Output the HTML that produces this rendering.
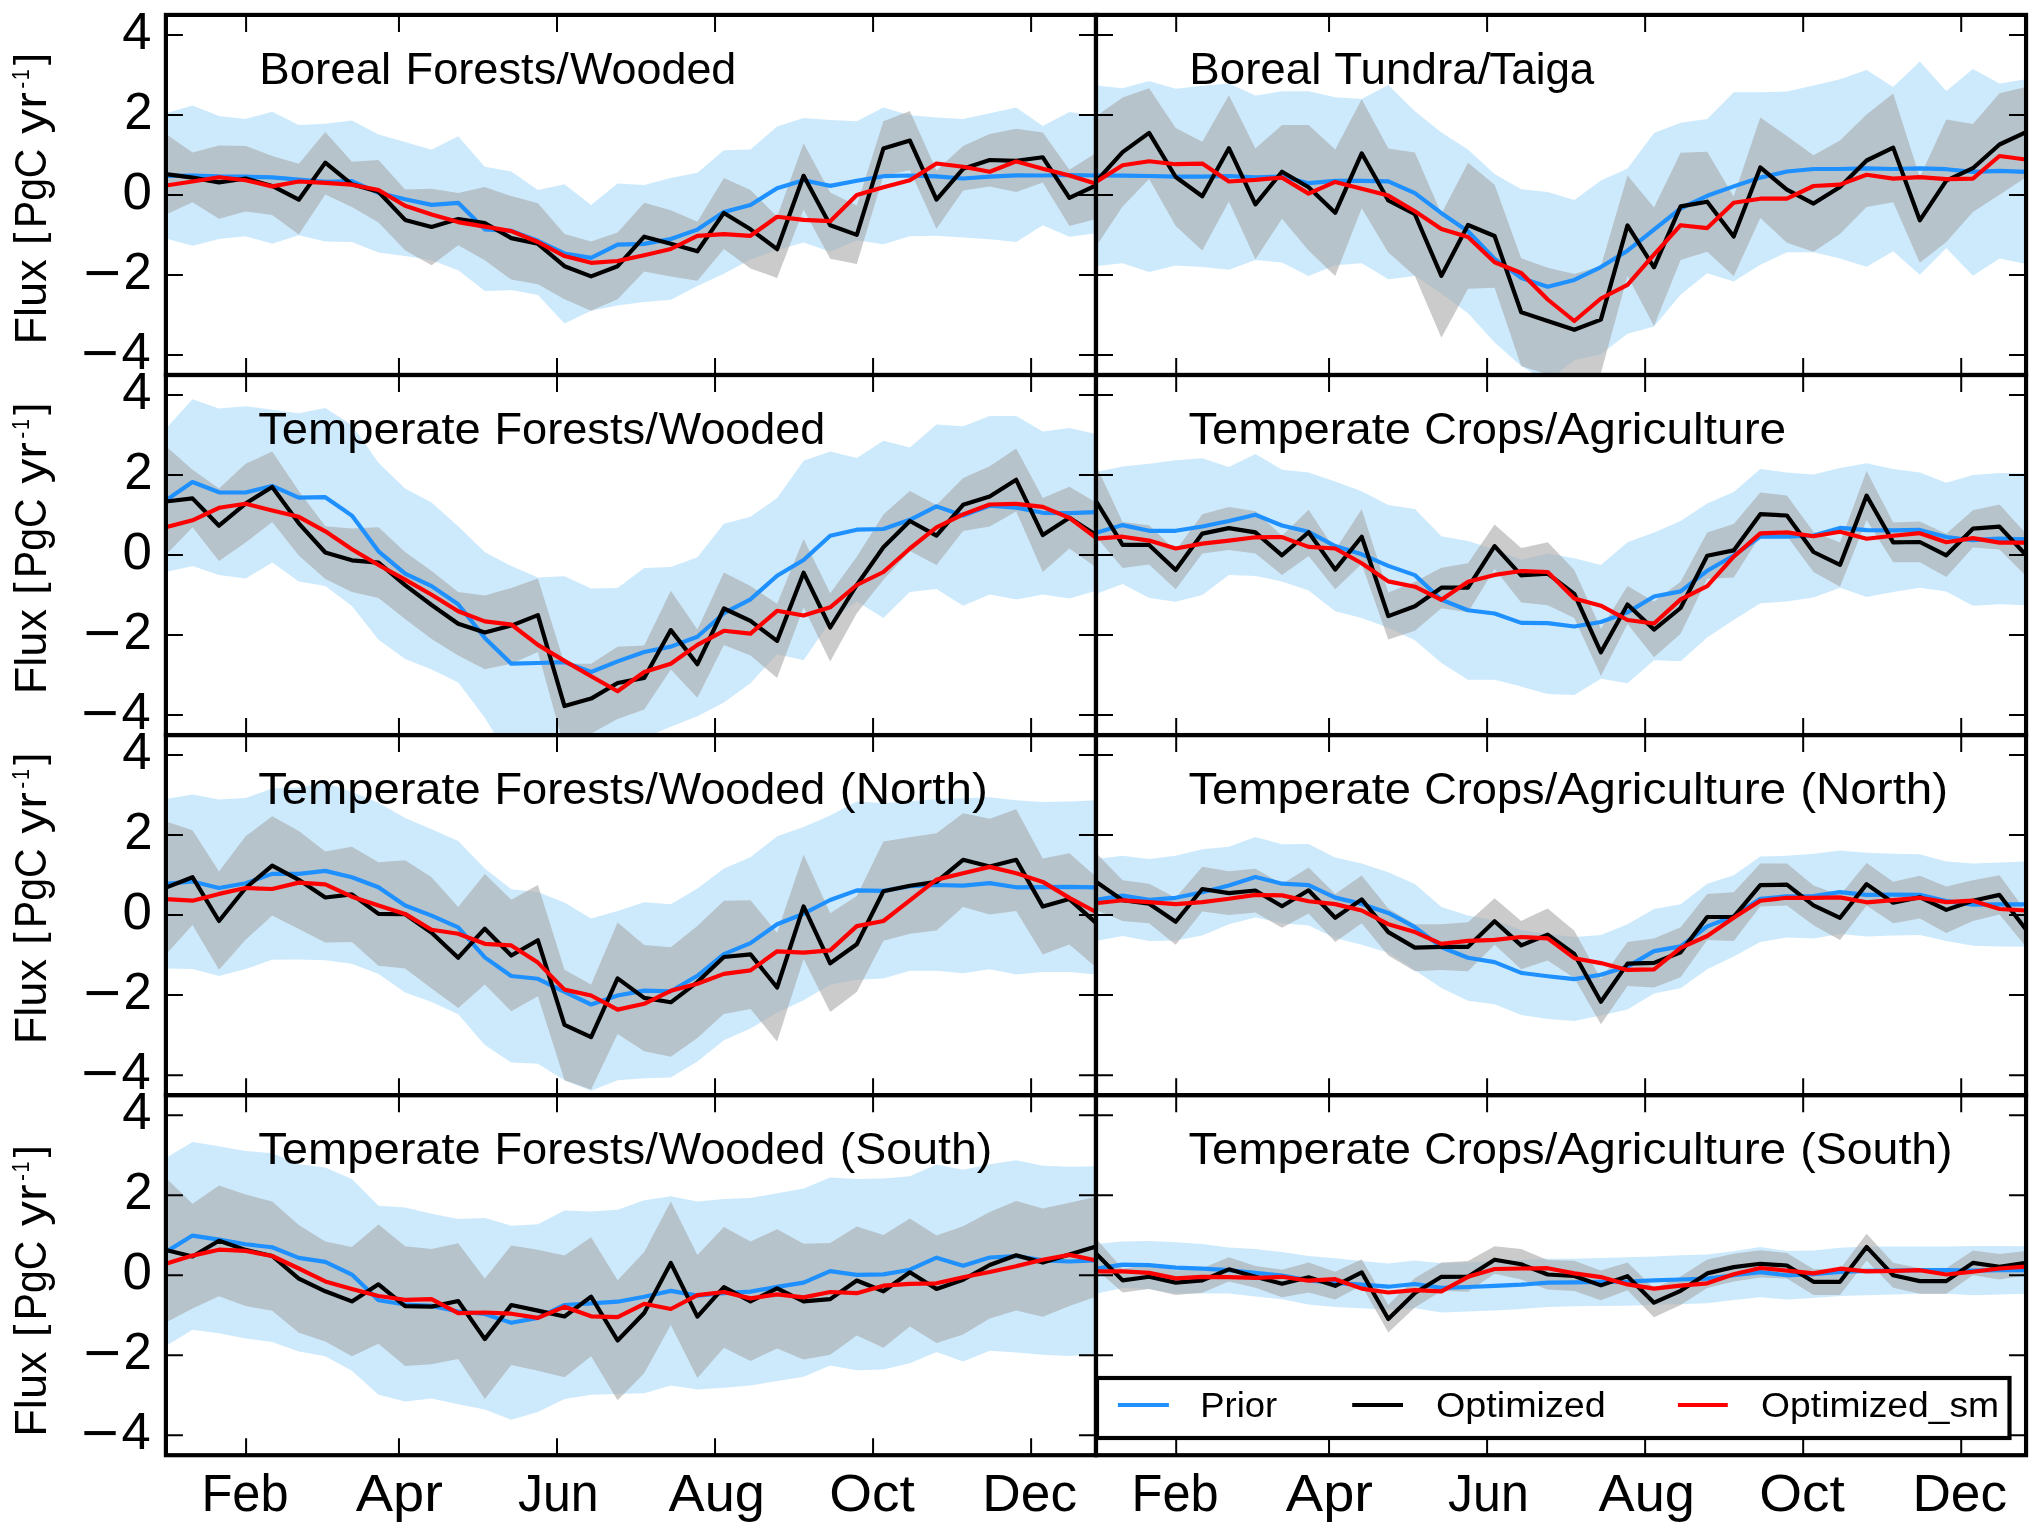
<!DOCTYPE html>
<html lang="en"><head><meta charset="utf-8"><title>Flux seasonal cycles</title>
<style>html,body{margin:0;padding:0;background:#fff}body{width:2041px;height:1532px;overflow:hidden}svg{display:block}text{font-family:"Liberation Sans",sans-serif;fill:#000}</style>
</head><body>
<svg width="2041" height="1532" viewBox="0 0 2041 1532">
<rect x="0" y="0" width="2041" height="1532" fill="#ffffff"/>
<defs>
<clipPath id="c00"><rect x="165.90" y="14.92" width="930.05" height="360.07"/></clipPath>
<clipPath id="c01"><rect x="1096.00" y="14.92" width="930.05" height="360.07"/></clipPath>
<clipPath id="c10"><rect x="165.90" y="374.99" width="930.05" height="360.07"/></clipPath>
<clipPath id="c11"><rect x="1096.00" y="374.99" width="930.05" height="360.07"/></clipPath>
<clipPath id="c20"><rect x="165.90" y="735.06" width="930.05" height="360.07"/></clipPath>
<clipPath id="c21"><rect x="1096.00" y="735.06" width="930.05" height="360.07"/></clipPath>
<clipPath id="c30"><rect x="165.90" y="1095.13" width="930.05" height="360.07"/></clipPath>
<clipPath id="c31"><rect x="1096.00" y="1095.13" width="930.05" height="360.07"/></clipPath>
<filter id="gs" x="0" y="0" width="100%" height="100%" filterUnits="userSpaceOnUse" color-interpolation-filters="sRGB"><feColorMatrix type="saturate" values="0"/></filter>
</defs>
<g clip-path="url(#c00)">
<polygon points="165.9,113.2 192.5,105.6 219.0,115.9 245.6,118.9 272.2,111.8 298.8,124.9 325.3,123.8 351.9,120.6 378.5,134.4 405.1,142.0 431.6,149.7 458.2,136.3 484.8,166.7 511.3,171.4 537.9,190.0 564.5,184.3 591.1,204.9 617.6,183.4 644.2,185.0 670.8,178.0 697.4,172.7 723.9,150.3 750.5,149.4 777.1,126.4 803.6,118.0 830.2,119.9 856.8,121.2 883.4,107.4 909.9,115.3 936.5,117.6 963.1,118.9 989.7,113.2 1016.2,107.6 1042.8,126.1 1069.4,112.0 1096.0,116.2 1096.0,233.2 1069.4,236.7 1042.8,225.2 1016.2,242.0 989.7,239.3 963.1,237.6 936.5,235.8 909.9,236.2 883.4,244.3 856.8,240.2 830.2,251.7 803.6,242.5 777.1,249.9 750.5,259.6 723.9,273.7 697.4,286.1 670.8,299.7 644.2,302.0 617.6,305.5 591.1,310.8 564.5,323.5 537.9,294.9 511.3,290.1 484.8,291.0 458.2,270.2 431.6,260.2 405.1,256.1 378.5,252.6 351.9,242.0 325.3,241.5 298.8,235.3 272.2,243.8 245.6,236.2 219.0,239.0 192.5,245.7 165.9,238.5" fill="#87cefa" fill-opacity="0.42"/>
<polygon points="165.9,133.9 192.5,152.4 219.0,145.5 245.6,145.9 272.2,155.9 298.8,163.8 325.3,132.1 351.9,161.7 378.5,160.1 405.1,189.4 431.6,188.7 458.2,192.9 484.8,187.0 511.3,196.1 537.9,203.2 564.5,234.1 591.1,241.6 617.6,232.6 644.2,202.8 670.8,210.2 697.4,221.7 723.9,178.0 750.5,190.0 777.1,216.8 803.6,143.2 830.2,192.6 856.8,205.5 883.4,121.2 909.9,110.9 936.5,170.5 963.1,145.9 989.7,133.9 1016.2,128.7 1042.8,132.6 1069.4,169.7 1096.0,152.9 1096.0,219.1 1069.4,226.1 1042.8,182.5 1016.2,192.1 989.7,186.4 963.1,190.5 936.5,228.8 909.9,170.2 883.4,175.8 856.8,264.0 830.2,258.7 803.6,209.4 777.1,278.1 750.5,268.4 723.9,249.0 697.4,280.8 670.8,276.4 644.2,271.6 617.6,299.3 591.1,310.8 564.5,299.3 537.9,284.3 511.3,279.6 484.8,260.2 458.2,245.2 431.6,265.3 405.1,250.3 378.5,222.6 351.9,207.1 325.3,194.5 298.8,234.6 272.2,215.0 245.6,211.5 219.0,218.7 192.5,202.3 165.9,214.6" fill="#a9a9a9" fill-opacity="0.6"/>
<polyline points="165.9,175.8 192.5,175.5 219.0,176.4 245.6,176.7 272.2,177.4 298.8,179.7 325.3,181.8 351.9,181.1 378.5,192.9 405.1,199.3 431.6,204.9 458.2,202.8 484.8,229.3 511.3,230.9 537.9,240.8 564.5,253.5 591.1,257.9 617.6,244.6 644.2,243.9 670.8,239.0 697.4,229.6 723.9,212.0 750.5,204.9 777.1,188.2 803.6,180.2 830.2,185.9 856.8,180.8 883.4,176.2 909.9,175.5 936.5,176.4 963.1,178.5 989.7,176.7 1016.2,175.3 1042.8,175.5 1069.4,175.0 1096.0,175.5" fill="none" stroke="#1e90ff" stroke-width="4.17" stroke-linejoin="round" stroke-linecap="butt"/>
<polyline points="165.9,174.1 192.5,177.6 219.0,182.4 245.6,178.5 272.2,185.9 298.8,199.7 325.3,162.6 351.9,184.3 378.5,191.7 405.1,219.9 431.6,227.0 458.2,219.1 484.8,223.1 511.3,238.1 537.9,243.8 564.5,266.2 591.1,276.4 617.6,266.2 644.2,236.7 670.8,243.8 697.4,251.3 723.9,212.9 750.5,229.3 777.1,249.2 803.6,175.8 830.2,225.2 856.8,234.9 883.4,148.5 909.9,140.6 936.5,199.7 963.1,168.8 989.7,160.0 1016.2,160.8 1042.8,157.3 1069.4,197.9 1096.0,185.5" fill="none" stroke="#000000" stroke-width="4.17" stroke-linejoin="round" stroke-linecap="butt"/>
<polyline points="165.9,185.5 192.5,181.5 219.0,177.2 245.6,180.2 272.2,186.4 298.8,181.5 325.3,182.9 351.9,184.7 378.5,190.0 405.1,205.8 431.6,214.6 458.2,222.1 484.8,226.6 511.3,231.1 537.9,242.0 564.5,256.1 591.1,262.8 617.6,261.0 644.2,255.2 670.8,249.0 697.4,235.8 723.9,234.1 750.5,235.8 777.1,216.8 803.6,219.9 830.2,221.2 856.8,194.9 883.4,187.3 909.9,180.2 936.5,163.5 963.1,166.7 989.7,171.8 1016.2,161.4 1042.8,168.8 1069.4,175.5 1096.0,183.8" fill="none" stroke="#ff0000" stroke-width="4.17" stroke-linejoin="round" stroke-linecap="butt"/>
</g>
<g clip-path="url(#c01)">
<polygon points="1096.0,85.4 1122.6,88.2 1149.1,80.9 1175.7,88.8 1202.3,85.8 1228.9,83.5 1255.4,95.6 1282.0,91.3 1308.6,91.3 1335.2,97.2 1361.7,99.0 1388.3,84.9 1414.9,111.3 1441.4,132.5 1468.0,149.5 1494.6,174.0 1521.2,189.3 1547.7,192.1 1574.3,199.9 1600.9,180.5 1627.5,168.5 1654.0,133.1 1680.6,122.7 1707.2,119.0 1733.7,92.3 1760.3,92.3 1786.9,91.5 1813.5,85.5 1840.0,79.2 1866.6,70.0 1893.2,87.0 1919.8,61.6 1946.3,91.0 1972.9,69.0 1999.5,83.5 2026.0,79.2 2026.0,264.0 1999.5,258.5 1972.9,275.8 1946.3,248.1 1919.8,274.8 1893.2,251.3 1866.6,266.8 1840.0,258.5 1813.5,252.2 1786.9,252.2 1760.3,264.8 1733.7,281.5 1707.2,273.2 1680.6,294.8 1654.0,326.5 1627.5,333.8 1600.9,354.3 1574.3,360.2 1547.7,381.4 1521.2,366.1 1494.6,342.6 1468.0,313.2 1441.4,293.6 1414.9,275.9 1388.3,279.3 1361.7,263.2 1335.2,265.2 1308.6,275.9 1282.0,262.6 1255.4,259.9 1228.9,269.7 1202.3,267.1 1175.7,265.6 1149.1,272.0 1122.6,263.2 1096.0,266.1" fill="#87cefa" fill-opacity="0.42"/>
<polygon points="1096.0,116.2 1122.6,97.6 1149.1,88.2 1175.7,128.0 1202.3,141.7 1228.9,95.2 1255.4,148.6 1282.0,125.0 1308.6,125.0 1335.2,149.5 1361.7,99.2 1388.3,148.6 1414.9,152.5 1441.4,213.8 1468.0,162.7 1494.6,184.8 1521.2,258.3 1547.7,267.7 1574.3,274.0 1600.9,266.1 1627.5,175.4 1654.0,207.6 1680.6,152.7 1707.2,151.7 1733.7,196.4 1760.3,117.4 1786.9,136.0 1813.5,155.2 1840.0,140.5 1866.6,114.5 1893.2,93.5 1919.8,177.2 1946.3,119.4 1972.9,123.9 1999.5,93.3 2026.0,87.0 2026.0,177.2 1999.5,194.8 1972.9,212.1 1946.3,241.9 1919.8,262.8 1893.2,202.3 1866.6,207.0 1840.0,234.0 1813.5,251.7 1786.9,242.8 1760.3,218.0 1733.7,276.2 1707.2,251.7 1680.6,259.9 1654.0,326.1 1627.5,275.9 1600.9,373.0 1574.3,385.7 1547.7,374.3 1521.2,366.1 1494.6,287.7 1468.0,288.7 1441.4,337.7 1414.9,275.9 1388.3,252.4 1361.7,208.3 1335.2,275.9 1308.6,250.5 1282.0,218.7 1255.4,259.3 1228.9,201.5 1202.3,250.5 1175.7,226.0 1149.1,178.9 1122.6,206.4 1096.0,246.5" fill="#a9a9a9" fill-opacity="0.6"/>
<polyline points="1096.0,175.4 1122.6,175.6 1149.1,176.0 1175.7,176.6 1202.3,176.6 1228.9,176.0 1255.4,177.4 1282.0,176.6 1308.6,183.2 1335.2,180.9 1361.7,180.9 1388.3,181.3 1414.9,193.2 1441.4,213.2 1468.0,231.3 1494.6,258.9 1521.2,277.9 1547.7,286.7 1574.3,279.9 1600.9,267.1 1627.5,250.7 1654.0,229.7 1680.6,208.5 1707.2,195.8 1733.7,186.4 1760.3,177.6 1786.9,171.5 1813.5,169.0 1840.0,169.0 1866.6,168.4 1893.2,169.0 1919.8,168.4 1946.3,169.2 1972.9,171.9 1999.5,170.9 2026.0,171.9" fill="none" stroke="#1e90ff" stroke-width="4.17" stroke-linejoin="round" stroke-linecap="butt"/>
<polyline points="1096.0,181.5 1122.6,152.1 1149.1,132.9 1175.7,177.0 1202.3,196.2 1228.9,148.2 1255.4,204.4 1282.0,171.7 1308.6,187.2 1335.2,212.8 1361.7,153.3 1388.3,200.5 1414.9,214.2 1441.4,275.9 1468.0,225.0 1494.6,236.0 1521.2,312.2 1547.7,321.0 1574.3,329.8 1600.9,319.6 1627.5,225.4 1654.0,267.3 1680.6,206.4 1707.2,201.7 1733.7,236.6 1760.3,167.4 1786.9,189.7 1813.5,203.6 1840.0,187.0 1866.6,160.5 1893.2,147.6 1919.8,220.3 1946.3,180.7 1972.9,168.2 1999.5,144.5 2026.0,132.1" fill="none" stroke="#000000" stroke-width="4.17" stroke-linejoin="round" stroke-linecap="butt"/>
<polyline points="1096.0,181.9 1122.6,165.2 1149.1,161.3 1175.7,164.2 1202.3,163.6 1228.9,181.5 1255.4,179.9 1282.0,177.6 1308.6,193.6 1335.2,181.9 1361.7,188.7 1388.3,195.6 1414.9,211.3 1441.4,228.9 1468.0,237.1 1494.6,262.2 1521.2,273.0 1547.7,299.5 1574.3,321.0 1600.9,298.5 1627.5,284.8 1654.0,254.6 1680.6,225.2 1707.2,228.1 1733.7,202.7 1760.3,198.7 1786.9,198.7 1813.5,186.0 1840.0,184.6 1866.6,174.8 1893.2,178.6 1919.8,177.2 1946.3,179.1 1972.9,178.6 1999.5,156.0 2026.0,159.5" fill="none" stroke="#ff0000" stroke-width="4.17" stroke-linejoin="round" stroke-linecap="butt"/>
</g>
<g clip-path="url(#c10)">
<polygon points="165.9,428.6 192.5,399.2 219.0,408.6 245.6,406.2 272.2,409.7 298.8,413.3 325.3,408.1 351.9,425.0 378.5,462.7 405.1,488.5 431.6,502.6 458.2,526.2 484.8,552.0 511.3,566.1 537.9,577.4 564.5,576.3 591.1,588.5 617.6,588.0 644.2,568.0 670.8,566.9 697.4,557.2 723.9,523.8 750.5,516.8 777.1,497.9 803.6,460.8 830.2,451.4 856.8,458.0 883.4,440.8 909.9,447.4 936.5,424.6 963.1,426.2 989.7,416.1 1016.2,416.1 1042.8,431.6 1069.4,428.1 1096.0,434.0 1096.0,590.8 1069.4,598.6 1042.8,594.4 1016.2,599.5 989.7,594.4 963.1,605.7 936.5,589.0 909.9,592.0 883.4,617.9 856.8,601.4 830.2,621.4 803.6,660.2 777.1,654.3 750.5,683.3 723.9,702.6 697.4,716.2 670.8,726.8 644.2,737.8 617.6,734.8 591.1,755.5 564.5,747.9 537.9,748.6 511.3,761.3 484.8,717.8 458.2,682.6 431.6,669.6 405.1,659.0 378.5,639.8 351.9,606.1 325.3,586.1 298.8,581.4 272.2,562.6 245.6,578.4 219.0,575.1 192.5,566.1 165.9,572.0" fill="#87cefa" fill-opacity="0.42"/>
<polygon points="165.9,446.2 192.5,469.7 219.0,488.5 245.6,463.8 272.2,451.4 298.8,490.9 325.3,526.2 351.9,528.5 378.5,527.3 405.1,552.0 431.6,570.9 458.2,592.0 484.8,595.5 511.3,588.0 537.9,578.6 564.5,663.7 591.1,663.7 617.6,646.8 644.2,645.6 670.8,590.8 697.4,629.6 723.9,572.5 750.5,586.1 777.1,603.8 803.6,539.1 830.2,593.2 856.8,556.7 883.4,514.4 909.9,490.9 936.5,505.0 963.1,478.0 989.7,466.2 1016.2,448.6 1042.8,497.9 1069.4,486.7 1096.0,502.6 1096.0,567.3 1069.4,548.5 1042.8,572.0 1016.2,511.6 989.7,526.6 963.1,530.9 936.5,565.0 909.9,550.9 883.4,579.8 856.8,613.2 830.2,661.4 803.6,607.3 777.1,677.9 750.5,655.5 723.9,644.9 697.4,697.8 670.8,669.6 644.2,709.6 617.6,719.0 591.1,733.4 564.5,748.4 537.9,652.0 511.3,663.7 484.8,669.2 458.2,655.5 431.6,639.1 405.1,619.1 378.5,597.9 351.9,592.0 325.3,579.1 298.8,555.6 272.2,521.9 245.6,542.6 219.0,561.0 192.5,527.3 165.9,554.9" fill="#a9a9a9" fill-opacity="0.6"/>
<polyline points="165.9,500.3 192.5,482.0 219.0,492.3 245.6,492.5 272.2,485.9 298.8,497.7 325.3,497.2 351.9,515.6 378.5,551.3 405.1,573.7 431.6,586.1 458.2,604.2 484.8,637.9 511.3,663.7 537.9,663.0 564.5,662.1 591.1,672.0 617.6,661.4 644.2,652.0 670.8,646.6 697.4,636.7 723.9,613.2 750.5,599.3 777.1,575.8 803.6,560.0 830.2,535.8 856.8,529.7 883.4,529.0 909.9,519.8 936.5,506.4 963.1,515.6 989.7,505.7 1016.2,507.6 1042.8,512.8 1069.4,513.2 1096.0,512.1" fill="none" stroke="#1e90ff" stroke-width="4.17" stroke-linejoin="round" stroke-linecap="butt"/>
<polyline points="165.9,501.5 192.5,498.4 219.0,525.7 245.6,503.6 272.2,486.9 298.8,523.3 325.3,552.5 351.9,560.3 378.5,562.6 405.1,585.2 431.6,605.0 458.2,623.8 484.8,632.5 511.3,625.6 537.9,615.1 564.5,706.1 591.1,698.6 617.6,683.0 644.2,677.9 670.8,630.1 697.4,664.2 723.9,608.5 750.5,620.9 777.1,640.9 803.6,572.7 830.2,627.5 856.8,585.0 883.4,547.3 909.9,521.0 936.5,535.6 963.1,504.8 989.7,496.5 1016.2,479.8 1042.8,535.1 1069.4,517.7 1096.0,534.9" fill="none" stroke="#000000" stroke-width="4.17" stroke-linejoin="round" stroke-linecap="butt"/>
<polyline points="165.9,527.3 192.5,520.3 219.0,507.8 245.6,503.8 272.2,510.4 298.8,516.8 325.3,531.3 351.9,549.2 378.5,565.0 405.1,579.6 431.6,594.8 458.2,611.3 484.8,621.4 511.3,624.5 537.9,644.9 564.5,660.9 591.1,676.2 617.6,691.3 644.2,672.0 670.8,663.7 697.4,644.9 723.9,630.8 750.5,633.6 777.1,610.8 803.6,615.5 830.2,607.3 856.8,585.0 883.4,572.0 909.9,548.5 936.5,527.3 963.1,514.4 989.7,504.5 1016.2,503.8 1042.8,506.9 1069.4,517.9 1096.0,537.9" fill="none" stroke="#ff0000" stroke-width="4.17" stroke-linejoin="round" stroke-linecap="butt"/>
</g>
<g clip-path="url(#c11)">
<polygon points="1096.0,472.0 1122.6,466.5 1149.1,463.8 1175.7,460.3 1202.3,458.3 1228.9,467.1 1255.4,454.0 1282.0,469.7 1308.6,472.6 1335.2,481.4 1361.7,491.2 1388.3,505.0 1414.9,508.9 1441.4,536.3 1468.0,541.0 1494.6,549.4 1521.2,559.8 1547.7,553.4 1574.3,558.3 1600.9,565.1 1627.5,542.2 1654.0,532.4 1680.6,521.0 1707.2,503.4 1733.7,492.0 1760.3,469.1 1786.9,472.4 1813.5,474.4 1840.0,468.1 1866.6,463.2 1893.2,469.1 1919.8,472.4 1946.3,482.8 1972.9,475.0 1999.5,473.0 2026.0,473.6 2026.0,605.3 1999.5,604.3 1972.9,605.7 1946.3,591.6 1919.8,587.7 1893.2,592.0 1866.6,596.9 1840.0,587.7 1813.5,597.5 1786.9,601.4 1760.3,603.3 1733.7,620.0 1707.2,637.6 1680.6,661.2 1654.0,660.2 1627.5,683.3 1600.9,678.8 1574.3,694.9 1547.7,694.1 1521.2,686.6 1494.6,679.8 1468.0,679.8 1441.4,663.1 1414.9,640.2 1388.3,627.8 1361.7,618.0 1335.2,611.2 1308.6,590.6 1282.0,581.4 1255.4,575.9 1228.9,574.9 1202.3,595.1 1175.7,601.8 1149.1,597.9 1122.6,584.1 1096.0,593.9" fill="#87cefa" fill-opacity="0.42"/>
<polygon points="1096.0,465.2 1122.6,522.0 1149.1,525.3 1175.7,550.4 1202.3,514.2 1228.9,506.9 1255.4,511.2 1282.0,535.7 1308.6,509.7 1335.2,550.0 1361.7,509.3 1388.3,592.6 1414.9,581.8 1441.4,567.7 1468.0,563.2 1494.6,524.6 1521.2,548.1 1547.7,542.2 1574.3,570.0 1600.9,628.8 1627.5,586.1 1654.0,601.4 1680.6,581.8 1707.2,532.4 1733.7,524.0 1760.3,492.6 1786.9,495.6 1813.5,531.8 1840.0,542.6 1866.6,471.1 1893.2,522.4 1919.8,521.6 1946.3,533.8 1972.9,510.3 1999.5,504.4 2026.0,533.8 2026.0,575.9 1999.5,549.4 1972.9,547.5 1946.3,576.9 1919.8,562.2 1893.2,562.2 1866.6,520.1 1840.0,586.7 1813.5,572.0 1786.9,536.1 1760.3,535.7 1733.7,577.5 1707.2,578.8 1680.6,633.7 1654.0,657.2 1627.5,623.9 1600.9,675.9 1574.3,618.0 1547.7,605.3 1521.2,602.4 1494.6,569.0 1468.0,612.2 1441.4,608.2 1414.9,630.8 1388.3,639.6 1361.7,564.1 1335.2,589.2 1308.6,555.9 1282.0,574.9 1255.4,553.4 1228.9,550.0 1202.3,553.4 1175.7,589.2 1149.1,564.5 1122.6,568.1 1096.0,536.7" fill="#a9a9a9" fill-opacity="0.6"/>
<polyline points="1096.0,532.8 1122.6,525.1 1149.1,530.8 1175.7,530.8 1202.3,526.5 1228.9,521.0 1255.4,514.8 1282.0,525.5 1308.6,531.8 1335.2,546.1 1361.7,554.3 1388.3,565.9 1414.9,575.1 1441.4,599.8 1468.0,610.2 1494.6,613.5 1521.2,622.9 1547.7,623.1 1574.3,626.5 1600.9,622.0 1627.5,612.4 1654.0,596.5 1680.6,591.4 1707.2,570.8 1733.7,555.5 1760.3,536.5 1786.9,536.7 1813.5,535.5 1840.0,527.9 1866.6,530.2 1893.2,530.4 1919.8,529.9 1946.3,537.1 1972.9,540.2 1999.5,538.7 2026.0,539.3" fill="none" stroke="#1e90ff" stroke-width="4.17" stroke-linejoin="round" stroke-linecap="butt"/>
<polyline points="1096.0,501.0 1122.6,544.9 1149.1,544.9 1175.7,570.0 1202.3,533.6 1228.9,528.1 1255.4,532.4 1282.0,555.3 1308.6,532.2 1335.2,569.6 1361.7,536.7 1388.3,616.1 1414.9,606.3 1441.4,587.7 1468.0,587.7 1494.6,546.1 1521.2,575.3 1547.7,573.6 1574.3,593.9 1600.9,652.3 1627.5,604.5 1654.0,629.6 1680.6,608.0 1707.2,555.7 1733.7,550.4 1760.3,514.2 1786.9,515.5 1813.5,552.0 1840.0,564.9 1866.6,495.6 1893.2,542.4 1919.8,542.0 1946.3,555.3 1972.9,528.7 1999.5,526.7 2026.0,555.1" fill="none" stroke="#000000" stroke-width="4.17" stroke-linejoin="round" stroke-linecap="butt"/>
<polyline points="1096.0,538.7 1122.6,536.7 1149.1,540.6 1175.7,548.5 1202.3,543.6 1228.9,540.6 1255.4,537.3 1282.0,537.1 1308.6,546.9 1335.2,548.5 1361.7,563.2 1388.3,581.4 1414.9,586.7 1441.4,599.8 1468.0,581.8 1494.6,574.9 1521.2,571.0 1547.7,572.0 1574.3,598.4 1600.9,605.7 1627.5,620.0 1654.0,623.5 1680.6,599.4 1707.2,586.1 1733.7,556.7 1760.3,533.4 1786.9,532.4 1813.5,536.3 1840.0,531.8 1866.6,538.7 1893.2,535.7 1919.8,533.2 1946.3,542.2 1972.9,538.1 1999.5,542.6 2026.0,542.6" fill="none" stroke="#ff0000" stroke-width="4.17" stroke-linejoin="round" stroke-linecap="butt"/>
</g>
<g clip-path="url(#c20)">
<polygon points="165.9,799.1 192.5,794.4 219.0,799.6 245.6,798.0 272.2,788.6 298.8,787.4 325.3,782.7 351.9,792.1 378.5,802.7 405.1,818.0 431.6,829.3 458.2,841.0 484.8,868.5 511.3,889.2 537.9,892.0 564.5,902.6 591.1,918.6 617.6,910.9 644.2,902.2 670.8,904.3 697.4,888.5 723.9,868.5 750.5,857.2 777.1,836.3 803.6,826.9 830.2,815.6 856.8,801.5 883.4,803.1 909.9,801.3 936.5,799.1 963.1,798.2 989.7,797.3 1016.2,800.3 1042.8,802.0 1069.4,801.5 1096.0,800.3 1096.0,974.4 1069.4,972.0 1042.8,972.0 1016.2,974.4 989.7,969.2 963.1,973.2 936.5,970.8 909.9,970.8 883.4,978.4 856.8,979.8 830.2,984.7 803.6,1000.2 777.1,1012.7 750.5,1028.5 723.9,1040.2 697.4,1061.4 670.8,1077.4 644.2,1078.3 617.6,1080.2 591.1,1090.8 564.5,1080.2 537.9,1063.7 511.3,1062.6 484.8,1044.9 458.2,1014.3 431.6,1001.9 405.1,992.5 378.5,973.9 351.9,963.8 325.3,960.2 298.8,959.5 272.2,959.8 245.6,969.0 219.0,976.0 192.5,969.0 165.9,968.5" fill="#87cefa" fill-opacity="0.42"/>
<polygon points="165.9,821.5 192.5,830.2 219.0,871.6 245.6,836.3 272.2,816.3 298.8,830.9 325.3,851.4 351.9,846.7 378.5,862.2 405.1,860.3 431.6,877.2 458.2,906.9 484.8,873.9 511.3,899.8 537.9,885.0 564.5,969.7 591.1,984.5 617.6,922.6 644.2,945.0 670.8,947.3 697.4,926.1 723.9,900.7 750.5,900.3 777.1,932.7 803.6,854.4 830.2,913.2 856.8,896.0 883.4,841.5 909.9,837.2 936.5,833.2 963.1,813.3 989.7,818.7 1016.2,809.3 1042.8,858.6 1069.4,853.2 1096.0,876.8 1096.0,967.3 1069.4,944.5 1042.8,954.4 1016.2,910.9 989.7,914.4 963.1,906.9 936.5,930.4 909.9,933.7 883.4,940.7 856.8,992.0 830.2,1012.0 803.6,959.1 777.1,1041.4 750.5,1008.9 723.9,1013.9 697.4,1037.9 670.8,1056.7 644.2,1051.3 617.6,1033.9 591.1,1089.6 564.5,1080.2 537.9,996.2 511.3,1011.3 484.8,984.5 458.2,1008.0 431.6,988.5 405.1,968.5 378.5,965.7 351.9,942.1 325.3,942.6 298.8,929.0 272.2,915.6 245.6,939.8 219.0,969.7 192.5,925.0 165.9,954.4" fill="#a9a9a9" fill-opacity="0.6"/>
<polyline points="165.9,883.8 192.5,881.5 219.0,888.0 245.6,883.3 272.2,873.9 298.8,873.9 325.3,870.9 351.9,877.2 378.5,887.3 405.1,905.5 431.6,915.6 458.2,927.3 484.8,957.4 511.3,976.0 537.9,978.8 564.5,991.8 591.1,1004.5 617.6,995.5 644.2,990.6 670.8,991.3 697.4,975.8 723.9,954.1 750.5,943.1 777.1,924.3 803.6,913.7 830.2,900.0 856.8,890.4 883.4,890.9 909.9,886.2 936.5,885.0 963.1,885.7 989.7,883.1 1016.2,887.3 1042.8,887.1 1069.4,886.9 1096.0,887.3" fill="none" stroke="#1e90ff" stroke-width="4.17" stroke-linejoin="round" stroke-linecap="butt"/>
<polyline points="165.9,887.6 192.5,877.2 219.0,921.0 245.6,888.0 272.2,865.7 298.8,879.8 325.3,897.5 351.9,894.4 378.5,913.9 405.1,914.2 431.6,932.7 458.2,957.7 484.8,928.7 511.3,955.5 537.9,940.3 564.5,1024.9 591.1,1037.2 617.6,978.4 644.2,997.9 670.8,1002.3 697.4,982.1 723.9,957.0 750.5,954.4 777.1,987.5 803.6,906.4 830.2,963.3 856.8,944.3 883.4,891.3 909.9,885.7 936.5,881.9 963.1,859.8 989.7,866.6 1016.2,859.8 1042.8,906.6 1069.4,899.1 1096.0,922.9" fill="none" stroke="#000000" stroke-width="4.17" stroke-linejoin="round" stroke-linecap="butt"/>
<polyline points="165.9,899.1 192.5,900.7 219.0,893.9 245.6,888.0 272.2,889.0 298.8,882.6 325.3,884.3 351.9,896.7 378.5,905.5 405.1,913.9 431.6,929.7 458.2,933.7 484.8,943.8 511.3,945.4 537.9,962.6 564.5,989.6 591.1,995.5 617.6,1009.6 644.2,1003.8 670.8,990.8 697.4,983.8 723.9,973.9 750.5,970.4 777.1,951.3 803.6,952.7 830.2,950.4 856.8,926.1 883.4,921.0 909.9,900.3 936.5,879.6 963.1,873.2 989.7,866.9 1016.2,873.2 1042.8,881.9 1069.4,897.9 1096.0,912.0" fill="none" stroke="#ff0000" stroke-width="4.17" stroke-linejoin="round" stroke-linecap="butt"/>
</g>
<g clip-path="url(#c21)">
<polygon points="1096.0,859.0 1122.6,855.7 1149.1,859.0 1175.7,855.7 1202.3,849.2 1228.9,846.8 1255.4,837.0 1282.0,844.3 1308.6,843.9 1335.2,857.6 1361.7,863.5 1388.3,872.3 1414.9,884.1 1441.4,907.0 1468.0,915.4 1494.6,920.3 1521.2,930.1 1547.7,934.0 1574.3,937.0 1600.9,935.0 1627.5,924.2 1654.0,909.0 1680.6,904.3 1707.2,883.7 1733.7,875.3 1760.3,856.6 1786.9,855.7 1813.5,853.7 1840.0,850.4 1866.6,852.7 1893.2,853.7 1919.8,854.3 1946.3,861.5 1972.9,863.5 1999.5,862.5 2026.0,861.5 2026.0,946.8 1999.5,946.4 1972.9,945.8 1946.3,940.9 1919.8,935.0 1893.2,935.4 1866.6,936.6 1840.0,934.0 1813.5,938.6 1786.9,937.4 1760.3,941.9 1733.7,956.6 1707.2,969.3 1680.6,988.3 1654.0,993.4 1627.5,1009.5 1600.9,1015.4 1574.3,1020.9 1547.7,1018.9 1521.2,1015.0 1494.6,1004.2 1468.0,1000.7 1441.4,987.9 1414.9,970.3 1388.3,952.7 1361.7,944.8 1335.2,938.0 1308.6,925.6 1282.0,923.3 1255.4,917.4 1228.9,924.2 1202.3,935.4 1175.7,940.5 1149.1,940.9 1122.6,936.0 1096.0,940.9" fill="#87cefa" fill-opacity="0.42"/>
<polygon points="1096.0,852.7 1122.6,880.2 1149.1,883.7 1175.7,897.8 1202.3,866.8 1228.9,871.3 1255.4,868.8 1282.0,884.1 1308.6,867.4 1335.2,893.9 1361.7,875.6 1388.3,908.6 1414.9,924.2 1441.4,924.2 1468.0,922.3 1494.6,898.2 1521.2,920.9 1547.7,908.6 1574.3,930.7 1600.9,979.1 1627.5,941.9 1654.0,938.4 1680.6,927.2 1707.2,893.9 1733.7,892.3 1760.3,863.5 1786.9,863.5 1813.5,885.4 1840.0,895.2 1866.6,862.9 1893.2,881.7 1919.8,875.8 1946.3,886.4 1972.9,880.2 1999.5,875.3 2026.0,911.5 2026.0,946.8 1999.5,914.4 1972.9,920.9 1946.3,933.1 1919.8,918.4 1893.2,923.3 1866.6,905.6 1840.0,939.9 1813.5,925.2 1786.9,905.6 1760.3,906.6 1733.7,940.9 1707.2,939.9 1680.6,977.2 1654.0,987.6 1627.5,986.0 1600.9,1024.2 1574.3,978.1 1547.7,960.5 1521.2,969.3 1494.6,944.8 1468.0,971.3 1441.4,969.9 1414.9,971.3 1388.3,955.6 1361.7,923.3 1335.2,941.9 1308.6,913.5 1282.0,927.8 1255.4,912.5 1228.9,915.0 1202.3,911.5 1175.7,944.8 1149.1,923.3 1122.6,920.9 1096.0,909.9" fill="#a9a9a9" fill-opacity="0.6"/>
<polyline points="1096.0,899.8 1122.6,895.6 1149.1,899.8 1175.7,897.8 1202.3,892.3 1228.9,885.4 1255.4,877.0 1282.0,883.7 1308.6,885.1 1335.2,897.6 1361.7,903.9 1388.3,912.9 1414.9,927.2 1441.4,947.2 1468.0,957.8 1494.6,962.1 1521.2,972.9 1547.7,976.2 1574.3,979.1 1600.9,974.8 1627.5,966.6 1654.0,951.1 1680.6,946.4 1707.2,926.4 1733.7,916.2 1760.3,898.8 1786.9,896.4 1813.5,896.0 1840.0,892.1 1866.6,894.9 1893.2,894.7 1919.8,894.9 1946.3,901.1 1972.9,904.6 1999.5,904.3 2026.0,904.3" fill="none" stroke="#1e90ff" stroke-width="4.17" stroke-linejoin="round" stroke-linecap="butt"/>
<polyline points="1096.0,881.7 1122.6,900.3 1149.1,903.7 1175.7,921.7 1202.3,889.0 1228.9,893.1 1255.4,890.5 1282.0,906.2 1308.6,890.3 1335.2,917.8 1361.7,899.4 1388.3,932.1 1414.9,947.6 1441.4,946.8 1468.0,946.8 1494.6,921.3 1521.2,945.4 1547.7,934.6 1574.3,954.0 1600.9,1001.7 1627.5,963.6 1654.0,962.9 1680.6,952.3 1707.2,917.0 1733.7,916.8 1760.3,885.1 1786.9,884.7 1813.5,905.4 1840.0,917.8 1866.6,884.1 1893.2,902.7 1919.8,897.2 1946.3,909.9 1972.9,900.7 1999.5,894.9 2026.0,929.5" fill="none" stroke="#000000" stroke-width="4.17" stroke-linejoin="round" stroke-linecap="butt"/>
<polyline points="1096.0,903.3 1122.6,900.3 1149.1,902.1 1175.7,904.1 1202.3,902.1 1228.9,898.8 1255.4,894.9 1282.0,895.4 1308.6,901.3 1335.2,904.1 1361.7,910.5 1388.3,924.2 1414.9,932.1 1441.4,943.8 1468.0,940.9 1494.6,939.9 1521.2,937.0 1547.7,938.4 1574.3,958.2 1600.9,963.1 1627.5,969.9 1654.0,969.3 1680.6,947.8 1707.2,936.0 1733.7,917.8 1760.3,900.7 1786.9,897.8 1813.5,897.8 1840.0,897.4 1866.6,902.3 1893.2,900.1 1919.8,897.8 1946.3,902.1 1972.9,900.7 1999.5,909.0 2026.0,910.5" fill="none" stroke="#ff0000" stroke-width="4.17" stroke-linejoin="round" stroke-linecap="butt"/>
</g>
<g clip-path="url(#c30)">
<polygon points="165.9,1158.0 192.5,1142.0 219.0,1146.2 245.6,1150.9 272.2,1153.3 298.8,1164.3 325.3,1167.4 351.9,1179.1 378.5,1205.7 405.1,1207.4 431.6,1213.7 458.2,1219.1 484.8,1217.9 511.3,1225.7 537.9,1224.3 564.5,1210.4 591.1,1211.6 617.6,1209.7 644.2,1200.3 670.8,1196.3 697.4,1201.5 723.9,1199.1 750.5,1198.0 777.1,1193.2 803.6,1188.5 830.2,1177.5 856.8,1179.1 883.4,1178.4 909.9,1176.3 936.5,1164.6 963.1,1169.7 989.7,1164.3 1016.2,1160.3 1042.8,1165.7 1069.4,1166.7 1096.0,1166.2 1096.0,1354.3 1069.4,1356.0 1042.8,1354.8 1016.2,1352.5 989.7,1350.8 963.1,1361.4 936.5,1352.0 909.9,1363.3 883.4,1369.6 856.8,1370.3 830.2,1365.6 803.6,1376.7 777.1,1380.9 750.5,1385.6 723.9,1387.7 697.4,1389.6 670.8,1385.4 644.2,1393.2 617.6,1393.9 591.1,1394.8 564.5,1399.0 537.9,1412.0 511.3,1419.7 484.8,1409.6 458.2,1404.2 431.6,1398.6 405.1,1401.4 378.5,1394.8 351.9,1370.8 325.3,1356.2 298.8,1351.5 272.2,1342.1 245.6,1338.4 219.0,1333.2 192.5,1329.7 165.9,1346.1" fill="#87cefa" fill-opacity="0.42"/>
<polygon points="165.9,1178.0 192.5,1203.8 219.0,1185.5 245.6,1194.4 272.2,1201.5 298.8,1225.0 325.3,1241.5 351.9,1246.9 378.5,1224.5 405.1,1246.2 431.6,1249.0 458.2,1243.3 484.8,1278.6 511.3,1245.5 537.9,1249.7 564.5,1255.6 591.1,1237.2 617.6,1280.3 644.2,1252.0 670.8,1201.5 697.4,1255.1 723.9,1226.9 750.5,1241.5 777.1,1229.2 803.6,1243.8 830.2,1243.1 856.8,1226.6 883.4,1235.1 909.9,1218.6 936.5,1235.6 963.1,1226.2 989.7,1212.1 1016.2,1201.0 1042.8,1208.5 1069.4,1202.7 1096.0,1196.8 1096.0,1296.7 1069.4,1306.1 1042.8,1316.7 1016.2,1310.4 989.7,1318.6 963.1,1334.4 936.5,1343.1 909.9,1326.6 883.4,1347.8 856.8,1335.5 830.2,1354.8 803.6,1359.5 777.1,1348.5 750.5,1360.9 723.9,1347.8 697.4,1377.9 670.8,1325.0 644.2,1373.2 617.6,1400.2 591.1,1356.2 564.5,1377.2 537.9,1370.8 511.3,1364.9 484.8,1399.0 458.2,1359.1 431.6,1364.2 405.1,1366.1 378.5,1343.8 351.9,1356.2 325.3,1341.4 298.8,1332.7 272.2,1310.8 245.6,1306.1 219.0,1296.3 192.5,1308.5 165.9,1322.6" fill="#a9a9a9" fill-opacity="0.6"/>
<polyline points="165.9,1252.0 192.5,1235.6 219.0,1239.6 245.6,1244.3 272.2,1247.3 298.8,1257.9 325.3,1261.9 351.9,1274.6 378.5,1300.3 405.1,1304.5 431.6,1305.9 458.2,1311.5 484.8,1313.9 511.3,1322.8 537.9,1317.9 564.5,1305.0 591.1,1303.3 617.6,1301.7 644.2,1296.7 670.8,1290.9 697.4,1295.6 723.9,1293.2 750.5,1291.6 777.1,1286.9 803.6,1282.6 830.2,1271.1 856.8,1274.9 883.4,1274.4 909.9,1269.7 936.5,1257.7 963.1,1265.7 989.7,1257.5 1016.2,1256.0 1042.8,1260.3 1069.4,1261.5 1096.0,1260.3" fill="none" stroke="#1e90ff" stroke-width="4.17" stroke-linejoin="round" stroke-linecap="butt"/>
<polyline points="165.9,1249.9 192.5,1256.5 219.0,1240.8 245.6,1249.9 272.2,1256.0 298.8,1278.6 325.3,1291.3 351.9,1301.4 378.5,1284.3 405.1,1306.1 431.6,1306.6 458.2,1301.0 484.8,1339.1 511.3,1305.0 537.9,1310.6 564.5,1316.5 591.1,1296.7 617.6,1340.5 644.2,1313.0 670.8,1262.9 697.4,1316.7 723.9,1287.1 750.5,1301.4 777.1,1288.3 803.6,1301.4 830.2,1299.1 856.8,1280.5 883.4,1291.3 909.9,1272.3 936.5,1289.0 963.1,1279.8 989.7,1265.0 1016.2,1255.3 1042.8,1262.6 1069.4,1254.4 1096.0,1246.6" fill="none" stroke="#000000" stroke-width="4.17" stroke-linejoin="round" stroke-linecap="butt"/>
<polyline points="165.9,1263.8 192.5,1255.6 219.0,1249.7 245.6,1250.9 272.2,1256.0 298.8,1268.5 325.3,1281.4 351.9,1289.0 378.5,1296.0 405.1,1299.8 431.6,1299.1 458.2,1313.2 484.8,1312.5 511.3,1313.7 537.9,1317.9 564.5,1306.8 591.1,1316.3 617.6,1317.2 644.2,1303.8 670.8,1309.0 697.4,1295.1 723.9,1292.0 750.5,1298.4 777.1,1294.4 803.6,1297.4 830.2,1292.0 856.8,1293.2 883.4,1285.7 909.9,1283.8 936.5,1283.3 963.1,1277.2 989.7,1272.0 1016.2,1266.2 1042.8,1259.8 1069.4,1254.9 1096.0,1260.3" fill="none" stroke="#ff0000" stroke-width="4.17" stroke-linejoin="round" stroke-linecap="butt"/>
</g>
<g clip-path="url(#c31)">
<polygon points="1096.0,1243.9 1122.6,1241.5 1149.1,1241.1 1175.7,1242.3 1202.3,1243.9 1228.9,1247.4 1255.4,1248.9 1282.0,1252.1 1308.6,1256.1 1335.2,1258.3 1361.7,1261.1 1388.3,1263.5 1414.9,1260.4 1441.4,1263.3 1468.0,1262.4 1494.6,1261.1 1521.2,1260.1 1547.7,1258.8 1574.3,1258.8 1600.9,1258.0 1627.5,1257.2 1654.0,1256.4 1680.6,1255.2 1707.2,1254.4 1733.7,1251.3 1760.3,1247.0 1786.9,1251.0 1813.5,1250.5 1840.0,1247.8 1866.6,1246.6 1893.2,1246.6 1919.8,1246.6 1946.3,1246.6 1972.9,1245.9 1999.5,1245.9 2026.0,1246.3 2026.0,1293.8 1999.5,1294.5 1972.9,1295.3 1946.3,1293.8 1919.8,1293.8 1893.2,1294.5 1866.6,1295.2 1840.0,1296.0 1813.5,1298.0 1786.9,1299.6 1760.3,1297.2 1733.7,1300.0 1707.2,1303.3 1680.6,1304.3 1654.0,1304.7 1627.5,1305.8 1600.9,1306.1 1574.3,1306.3 1547.7,1307.1 1521.2,1309.0 1494.6,1310.5 1468.0,1311.6 1441.4,1312.6 1414.9,1308.2 1388.3,1309.8 1361.7,1308.2 1335.2,1307.1 1308.6,1304.4 1282.0,1299.2 1255.4,1296.4 1228.9,1293.4 1202.3,1293.4 1175.7,1293.4 1149.1,1289.1 1122.6,1288.1 1096.0,1293.8" fill="#87cefa" fill-opacity="0.42"/>
<polygon points="1096.0,1238.4 1122.6,1268.7 1149.1,1264.6 1175.7,1270.6 1202.3,1268.2 1228.9,1257.2 1255.4,1265.9 1282.0,1269.8 1308.6,1262.4 1335.2,1271.8 1361.7,1259.3 1388.3,1305.0 1414.9,1278.1 1441.4,1262.4 1468.0,1261.1 1494.6,1246.3 1521.2,1249.1 1547.7,1259.9 1574.3,1260.8 1600.9,1270.6 1627.5,1262.4 1654.0,1288.3 1680.6,1276.5 1707.2,1259.4 1733.7,1253.8 1760.3,1250.3 1786.9,1253.0 1813.5,1269.0 1840.0,1269.0 1866.6,1233.7 1893.2,1262.7 1919.8,1268.2 1946.3,1268.2 1972.9,1250.5 1999.5,1254.1 2026.0,1251.0 2026.0,1275.3 1999.5,1279.6 1972.9,1275.3 1946.3,1293.8 1919.8,1293.8 1893.2,1287.8 1866.6,1260.4 1840.0,1294.9 1813.5,1294.9 1786.9,1278.4 1760.3,1277.6 1733.7,1281.4 1707.2,1288.0 1680.6,1305.0 1654.0,1317.3 1627.5,1290.2 1600.9,1300.3 1574.3,1290.9 1547.7,1289.4 1521.2,1279.6 1494.6,1273.7 1468.0,1291.7 1441.4,1290.9 1414.9,1307.4 1388.3,1332.5 1361.7,1285.4 1335.2,1299.6 1308.6,1292.5 1282.0,1297.2 1255.4,1287.8 1228.9,1281.5 1202.3,1292.8 1175.7,1294.9 1149.1,1289.1 1122.6,1292.5 1096.0,1269.0" fill="#a9a9a9" fill-opacity="0.6"/>
<polyline points="1096.0,1268.7 1122.6,1264.6 1149.1,1265.1 1175.7,1267.7 1202.3,1268.7 1228.9,1270.2 1255.4,1272.9 1282.0,1275.6 1308.6,1280.3 1335.2,1282.8 1361.7,1284.7 1388.3,1286.7 1414.9,1284.0 1441.4,1287.8 1468.0,1287.0 1494.6,1285.9 1521.2,1284.7 1547.7,1282.6 1574.3,1282.3 1600.9,1281.8 1627.5,1281.5 1654.0,1280.4 1680.6,1279.5 1707.2,1278.6 1733.7,1275.3 1760.3,1272.1 1786.9,1275.3 1813.5,1274.2 1840.0,1271.8 1866.6,1270.9 1893.2,1270.6 1919.8,1270.1 1946.3,1270.1 1972.9,1270.6 1999.5,1270.2 2026.0,1270.1" fill="none" stroke="#1e90ff" stroke-width="4.17" stroke-linejoin="round" stroke-linecap="butt"/>
<polyline points="1096.0,1253.5 1122.6,1280.4 1149.1,1276.8 1175.7,1282.6 1202.3,1280.4 1228.9,1269.3 1255.4,1276.8 1282.0,1283.7 1308.6,1277.3 1335.2,1285.8 1361.7,1272.3 1388.3,1319.0 1414.9,1293.0 1441.4,1276.8 1468.0,1276.7 1494.6,1259.7 1521.2,1264.3 1547.7,1274.5 1574.3,1276.0 1600.9,1285.4 1627.5,1276.2 1654.0,1302.7 1680.6,1290.8 1707.2,1273.4 1733.7,1267.1 1760.3,1263.8 1786.9,1265.5 1813.5,1281.8 1840.0,1281.8 1866.6,1246.9 1893.2,1275.3 1919.8,1281.1 1946.3,1281.1 1972.9,1262.9 1999.5,1266.8 2026.0,1262.9" fill="none" stroke="#000000" stroke-width="4.17" stroke-linejoin="round" stroke-linecap="butt"/>
<polyline points="1096.0,1271.3 1122.6,1271.3 1149.1,1272.9 1175.7,1278.4 1202.3,1276.8 1228.9,1277.1 1255.4,1277.9 1282.0,1276.8 1308.6,1280.7 1335.2,1279.2 1361.7,1288.6 1388.3,1292.5 1414.9,1290.2 1441.4,1291.3 1468.0,1276.8 1494.6,1269.0 1521.2,1268.5 1547.7,1268.2 1574.3,1273.4 1600.9,1277.1 1627.5,1284.4 1654.0,1288.6 1680.6,1285.6 1707.2,1283.3 1733.7,1274.3 1760.3,1268.0 1786.9,1270.6 1813.5,1273.4 1840.0,1268.7 1866.6,1271.3 1893.2,1271.0 1919.8,1270.2 1946.3,1274.5 1972.9,1271.8 1999.5,1268.5 2026.0,1266.6" fill="none" stroke="#ff0000" stroke-width="4.17" stroke-linejoin="round" stroke-linecap="butt"/>
</g>
<path d="M165.90,354.99h17.0M1095.95,354.99h-17.0M165.90,274.97h17.0M1095.95,274.97h-17.0M165.90,194.95h17.0M1095.95,194.95h-17.0M165.90,114.94h17.0M1095.95,114.94h-17.0M165.90,34.92h17.0M1095.95,34.92h-17.0M246.10,14.92v17.0M246.10,374.99v-17.0M398.96,14.92v17.0M398.96,374.99v-17.0M557.00,14.92v17.0M557.00,374.99v-17.0M715.04,14.92v17.0M715.04,374.99v-17.0M873.08,14.92v17.0M873.08,374.99v-17.0M1031.12,14.92v17.0M1031.12,374.99v-17.0M1096.00,354.99h17.0M2026.05,354.99h-17.0M1096.00,274.97h17.0M2026.05,274.97h-17.0M1096.00,194.95h17.0M2026.05,194.95h-17.0M1096.00,114.94h17.0M2026.05,114.94h-17.0M1096.00,34.92h17.0M2026.05,34.92h-17.0M1176.20,14.92v17.0M1176.20,374.99v-17.0M1329.06,14.92v17.0M1329.06,374.99v-17.0M1487.10,14.92v17.0M1487.10,374.99v-17.0M1645.14,14.92v17.0M1645.14,374.99v-17.0M1803.18,14.92v17.0M1803.18,374.99v-17.0M1961.22,14.92v17.0M1961.22,374.99v-17.0M165.90,715.06h17.0M1095.95,715.06h-17.0M165.90,635.04h17.0M1095.95,635.04h-17.0M165.90,555.02h17.0M1095.95,555.02h-17.0M165.90,475.01h17.0M1095.95,475.01h-17.0M165.90,394.99h17.0M1095.95,394.99h-17.0M246.10,374.99v17.0M246.10,735.06v-17.0M398.96,374.99v17.0M398.96,735.06v-17.0M557.00,374.99v17.0M557.00,735.06v-17.0M715.04,374.99v17.0M715.04,735.06v-17.0M873.08,374.99v17.0M873.08,735.06v-17.0M1031.12,374.99v17.0M1031.12,735.06v-17.0M1096.00,715.06h17.0M2026.05,715.06h-17.0M1096.00,635.04h17.0M2026.05,635.04h-17.0M1096.00,555.02h17.0M2026.05,555.02h-17.0M1096.00,475.01h17.0M2026.05,475.01h-17.0M1096.00,394.99h17.0M2026.05,394.99h-17.0M1176.20,374.99v17.0M1176.20,735.06v-17.0M1329.06,374.99v17.0M1329.06,735.06v-17.0M1487.10,374.99v17.0M1487.10,735.06v-17.0M1645.14,374.99v17.0M1645.14,735.06v-17.0M1803.18,374.99v17.0M1803.18,735.06v-17.0M1961.22,374.99v17.0M1961.22,735.06v-17.0M165.90,1075.13h17.0M1095.95,1075.13h-17.0M165.90,995.11h17.0M1095.95,995.11h-17.0M165.90,915.09h17.0M1095.95,915.09h-17.0M165.90,835.08h17.0M1095.95,835.08h-17.0M165.90,755.06h17.0M1095.95,755.06h-17.0M246.10,735.06v17.0M246.10,1095.13v-17.0M398.96,735.06v17.0M398.96,1095.13v-17.0M557.00,735.06v17.0M557.00,1095.13v-17.0M715.04,735.06v17.0M715.04,1095.13v-17.0M873.08,735.06v17.0M873.08,1095.13v-17.0M1031.12,735.06v17.0M1031.12,1095.13v-17.0M1096.00,1075.13h17.0M2026.05,1075.13h-17.0M1096.00,995.11h17.0M2026.05,995.11h-17.0M1096.00,915.09h17.0M2026.05,915.09h-17.0M1096.00,835.08h17.0M2026.05,835.08h-17.0M1096.00,755.06h17.0M2026.05,755.06h-17.0M1176.20,735.06v17.0M1176.20,1095.13v-17.0M1329.06,735.06v17.0M1329.06,1095.13v-17.0M1487.10,735.06v17.0M1487.10,1095.13v-17.0M1645.14,735.06v17.0M1645.14,1095.13v-17.0M1803.18,735.06v17.0M1803.18,1095.13v-17.0M1961.22,735.06v17.0M1961.22,1095.13v-17.0M165.90,1435.20h17.0M1095.95,1435.20h-17.0M165.90,1355.18h17.0M1095.95,1355.18h-17.0M165.90,1275.17h17.0M1095.95,1275.17h-17.0M165.90,1195.15h17.0M1095.95,1195.15h-17.0M165.90,1115.13h17.0M1095.95,1115.13h-17.0M246.10,1095.13v17.0M246.10,1455.20v-17.0M398.96,1095.13v17.0M398.96,1455.20v-17.0M557.00,1095.13v17.0M557.00,1455.20v-17.0M715.04,1095.13v17.0M715.04,1455.20v-17.0M873.08,1095.13v17.0M873.08,1455.20v-17.0M1031.12,1095.13v17.0M1031.12,1455.20v-17.0M1096.00,1435.20h17.0M2026.05,1435.20h-17.0M1096.00,1355.18h17.0M2026.05,1355.18h-17.0M1096.00,1275.17h17.0M2026.05,1275.17h-17.0M1096.00,1195.15h17.0M2026.05,1195.15h-17.0M1096.00,1115.13h17.0M2026.05,1115.13h-17.0M1176.20,1095.13v17.0M1176.20,1455.20v-17.0M1329.06,1095.13v17.0M1329.06,1455.20v-17.0M1487.10,1095.13v17.0M1487.10,1455.20v-17.0M1645.14,1095.13v17.0M1645.14,1455.20v-17.0M1803.18,1095.13v17.0M1803.18,1455.20v-17.0M1961.22,1095.13v17.0M1961.22,1455.20v-17.0" stroke="#000" stroke-width="2.0" fill="none"/>
<rect x="1097.00" y="1378.00" width="912.50" height="60.00" fill="#fff" stroke="#000" stroke-width="4.17"/>
<line x1="1117.9" y1="1405.0" x2="1168.9" y2="1405.0" stroke="#1e90ff" stroke-width="4.17"/>
<line x1="1352.2" y1="1405.0" x2="1403.0" y2="1405.0" stroke="#000" stroke-width="4.17"/>
<line x1="1677.9" y1="1405.0" x2="1727.8" y2="1405.0" stroke="#ff0000" stroke-width="4.17"/>
<rect x="165.90" y="14.92" width="930.05" height="360.07" fill="none" stroke="#000" stroke-width="4.17"/>
<rect x="1096.00" y="14.92" width="930.05" height="360.07" fill="none" stroke="#000" stroke-width="4.17"/>
<rect x="165.90" y="374.99" width="930.05" height="360.07" fill="none" stroke="#000" stroke-width="4.17"/>
<rect x="1096.00" y="374.99" width="930.05" height="360.07" fill="none" stroke="#000" stroke-width="4.17"/>
<rect x="165.90" y="735.06" width="930.05" height="360.07" fill="none" stroke="#000" stroke-width="4.17"/>
<rect x="1096.00" y="735.06" width="930.05" height="360.07" fill="none" stroke="#000" stroke-width="4.17"/>
<rect x="165.90" y="1095.13" width="930.05" height="360.07" fill="none" stroke="#000" stroke-width="4.17"/>
<rect x="1096.00" y="1095.13" width="930.05" height="360.07" fill="none" stroke="#000" stroke-width="4.17"/>
<g filter="url(#gs)">
<text y="1417.00" font-size="35.33"><tspan x="1200.19" textLength="77.01" lengthAdjust="spacingAndGlyphs">Prior</tspan></text>
<text y="1417.00" font-size="35.33"><tspan x="1435.91" textLength="169.91" lengthAdjust="spacingAndGlyphs">Optimized</tspan></text>
<text y="1417.00" font-size="35.33"><tspan x="1761.13" textLength="238.02" lengthAdjust="spacingAndGlyphs">Optimized_sm</tspan></text>
<text y="83.80" font-size="44.38"><tspan x="259.20" textLength="132.00" lengthAdjust="spacingAndGlyphs">Boreal</tspan> <tspan x="405.54" textLength="163.30" lengthAdjust="spacingAndGlyphs">Forests/</tspan><tspan x="569.97" textLength="166.35" lengthAdjust="spacingAndGlyphs">Wooded</tspan></text>
<text y="83.80" font-size="44.38"><tspan x="1189.30" textLength="132.00" lengthAdjust="spacingAndGlyphs">Boreal</tspan> <tspan x="1334.17" textLength="156.22" lengthAdjust="spacingAndGlyphs">Tundra/</tspan><tspan x="1489.32" textLength="104.99" lengthAdjust="spacingAndGlyphs">Taiga</tspan></text>
<text y="443.80" font-size="44.38"><tspan x="258.34" textLength="222.46" lengthAdjust="spacingAndGlyphs">Temperate</tspan> <tspan x="494.42" textLength="163.30" lengthAdjust="spacingAndGlyphs">Forests/</tspan><tspan x="658.85" textLength="166.35" lengthAdjust="spacingAndGlyphs">Wooded</tspan></text>
<text y="443.80" font-size="44.38"><tspan x="1188.44" textLength="222.46" lengthAdjust="spacingAndGlyphs">Temperate</tspan> <tspan x="1424.22" textLength="133.02" lengthAdjust="spacingAndGlyphs">Crops/</tspan><tspan x="1557.39" textLength="228.84" lengthAdjust="spacingAndGlyphs">Agriculture</tspan></text>
<text y="803.80" font-size="44.38"><tspan x="258.34" textLength="222.46" lengthAdjust="spacingAndGlyphs">Temperate</tspan> <tspan x="494.42" textLength="163.30" lengthAdjust="spacingAndGlyphs">Forests/</tspan><tspan x="658.85" textLength="166.35" lengthAdjust="spacingAndGlyphs">Wooded</tspan> <tspan x="839.82" textLength="148.00" lengthAdjust="spacingAndGlyphs">(North)</tspan></text>
<text y="803.80" font-size="44.38"><tspan x="1188.44" textLength="222.46" lengthAdjust="spacingAndGlyphs">Temperate</tspan> <tspan x="1424.22" textLength="133.02" lengthAdjust="spacingAndGlyphs">Crops/</tspan><tspan x="1557.39" textLength="228.84" lengthAdjust="spacingAndGlyphs">Agriculture</tspan> <tspan x="1800.18" textLength="148.00" lengthAdjust="spacingAndGlyphs">(North)</tspan></text>
<text y="1163.80" font-size="44.38"><tspan x="258.34" textLength="222.46" lengthAdjust="spacingAndGlyphs">Temperate</tspan> <tspan x="494.42" textLength="163.30" lengthAdjust="spacingAndGlyphs">Forests/</tspan><tspan x="658.85" textLength="166.35" lengthAdjust="spacingAndGlyphs">Wooded</tspan> <tspan x="839.89" textLength="152.35" lengthAdjust="spacingAndGlyphs">(South)</tspan></text>
<text y="1163.80" font-size="44.38"><tspan x="1188.44" textLength="222.46" lengthAdjust="spacingAndGlyphs">Temperate</tspan> <tspan x="1424.22" textLength="133.02" lengthAdjust="spacingAndGlyphs">Crops/</tspan><tspan x="1557.39" textLength="228.84" lengthAdjust="spacingAndGlyphs">Agriculture</tspan> <tspan x="1800.25" textLength="152.35" lengthAdjust="spacingAndGlyphs">(South)</tspan></text>
<text y="1510.90" font-size="52.25"><tspan x="201.50" textLength="87.10" lengthAdjust="spacingAndGlyphs">Feb</tspan></text>
<text y="1510.90" font-size="52.25"><tspan x="355.76" textLength="87.17" lengthAdjust="spacingAndGlyphs">Apr</tspan></text>
<text y="1510.90" font-size="52.25"><tspan x="518.00" textLength="80.62" lengthAdjust="spacingAndGlyphs">Jun</tspan></text>
<text y="1510.90" font-size="52.25"><tspan x="668.53" textLength="96.37" lengthAdjust="spacingAndGlyphs">Aug</tspan></text>
<text y="1510.90" font-size="52.25"><tspan x="829.22" textLength="85.56" lengthAdjust="spacingAndGlyphs">Oct</tspan></text>
<text y="1510.90" font-size="52.25"><tspan x="982.35" textLength="94.65" lengthAdjust="spacingAndGlyphs">Dec</tspan></text>
<text y="1510.90" font-size="52.25"><tspan x="1131.60" textLength="87.10" lengthAdjust="spacingAndGlyphs">Feb</tspan></text>
<text y="1510.90" font-size="52.25"><tspan x="1285.86" textLength="87.17" lengthAdjust="spacingAndGlyphs">Apr</tspan></text>
<text y="1510.90" font-size="52.25"><tspan x="1448.10" textLength="80.62" lengthAdjust="spacingAndGlyphs">Jun</tspan></text>
<text y="1510.90" font-size="52.25"><tspan x="1598.63" textLength="96.37" lengthAdjust="spacingAndGlyphs">Aug</tspan></text>
<text y="1510.90" font-size="52.25"><tspan x="1759.32" textLength="85.56" lengthAdjust="spacingAndGlyphs">Oct</tspan></text>
<text y="1510.90" font-size="52.25"><tspan x="1912.45" textLength="94.65" lengthAdjust="spacingAndGlyphs">Dec</tspan></text>
<text y="368.89" font-size="52.25"><tspan x="81.14" textLength="37.78" lengthAdjust="spacingAndGlyphs" dy="3.16" font-size="56.90">−</tspan><tspan x="121.42" textLength="29.19" lengthAdjust="spacingAndGlyphs" dy="-3.16">4</tspan></text>
<text y="288.87" font-size="52.25"><tspan x="83.39" textLength="37.78" lengthAdjust="spacingAndGlyphs" dy="3.16" font-size="56.90">−</tspan><tspan x="123.43" textLength="28.27" lengthAdjust="spacingAndGlyphs" dy="-3.16">2</tspan></text>
<text y="208.85" font-size="52.25"><tspan x="122.63" textLength="29.41" lengthAdjust="spacingAndGlyphs">0</tspan></text>
<text y="128.84" font-size="52.25"><tspan x="124.33" textLength="28.27" lengthAdjust="spacingAndGlyphs">2</tspan></text>
<text y="48.82" font-size="52.25"><tspan x="122.32" textLength="29.19" lengthAdjust="spacingAndGlyphs">4</tspan></text>
<text y="728.96" font-size="52.25"><tspan x="81.14" textLength="37.78" lengthAdjust="spacingAndGlyphs" dy="3.16" font-size="56.90">−</tspan><tspan x="121.42" textLength="29.19" lengthAdjust="spacingAndGlyphs" dy="-3.16">4</tspan></text>
<text y="648.94" font-size="52.25"><tspan x="83.39" textLength="37.78" lengthAdjust="spacingAndGlyphs" dy="3.16" font-size="56.90">−</tspan><tspan x="123.43" textLength="28.27" lengthAdjust="spacingAndGlyphs" dy="-3.16">2</tspan></text>
<text y="568.92" font-size="52.25"><tspan x="122.63" textLength="29.41" lengthAdjust="spacingAndGlyphs">0</tspan></text>
<text y="488.91" font-size="52.25"><tspan x="124.33" textLength="28.27" lengthAdjust="spacingAndGlyphs">2</tspan></text>
<text y="408.89" font-size="52.25"><tspan x="122.32" textLength="29.19" lengthAdjust="spacingAndGlyphs">4</tspan></text>
<text y="1089.03" font-size="52.25"><tspan x="81.14" textLength="37.78" lengthAdjust="spacingAndGlyphs" dy="3.16" font-size="56.90">−</tspan><tspan x="121.42" textLength="29.19" lengthAdjust="spacingAndGlyphs" dy="-3.16">4</tspan></text>
<text y="1009.01" font-size="52.25"><tspan x="83.39" textLength="37.78" lengthAdjust="spacingAndGlyphs" dy="3.16" font-size="56.90">−</tspan><tspan x="123.43" textLength="28.27" lengthAdjust="spacingAndGlyphs" dy="-3.16">2</tspan></text>
<text y="928.99" font-size="52.25"><tspan x="122.63" textLength="29.41" lengthAdjust="spacingAndGlyphs">0</tspan></text>
<text y="848.98" font-size="52.25"><tspan x="124.33" textLength="28.27" lengthAdjust="spacingAndGlyphs">2</tspan></text>
<text y="768.96" font-size="52.25"><tspan x="122.32" textLength="29.19" lengthAdjust="spacingAndGlyphs">4</tspan></text>
<text y="1449.10" font-size="52.25"><tspan x="81.14" textLength="37.78" lengthAdjust="spacingAndGlyphs" dy="3.16" font-size="56.90">−</tspan><tspan x="121.42" textLength="29.19" lengthAdjust="spacingAndGlyphs" dy="-3.16">4</tspan></text>
<text y="1369.08" font-size="52.25"><tspan x="83.39" textLength="37.78" lengthAdjust="spacingAndGlyphs" dy="3.16" font-size="56.90">−</tspan><tspan x="123.43" textLength="28.27" lengthAdjust="spacingAndGlyphs" dy="-3.16">2</tspan></text>
<text y="1289.07" font-size="52.25"><tspan x="122.63" textLength="29.41" lengthAdjust="spacingAndGlyphs">0</tspan></text>
<text y="1209.05" font-size="52.25"><tspan x="124.33" textLength="28.27" lengthAdjust="spacingAndGlyphs">2</tspan></text>
<text y="1129.03" font-size="52.25"><tspan x="122.32" textLength="29.19" lengthAdjust="spacingAndGlyphs">4</tspan></text>
<text transform="rotate(-90)" y="46.00" font-size="44.38"><tspan x="-344.57" textLength="85.41" lengthAdjust="spacingAndGlyphs">Flux</tspan> <tspan x="-244.67" textLength="12.16" lengthAdjust="spacingAndGlyphs" dy="-2.80" font-size="39.76">[</tspan><tspan x="-228.08" textLength="79.39" lengthAdjust="spacingAndGlyphs" dy="2.80">PgC</tspan> <tspan x="-133.73" textLength="41.42" lengthAdjust="spacingAndGlyphs">yr</tspan><tspan x="-88.83" textLength="6.87" lengthAdjust="spacingAndGlyphs" dy="-17.20" font-size="24.42">-</tspan><tspan x="-80.27" textLength="10.93" lengthAdjust="spacingAndGlyphs" font-size="24.42">1</tspan><tspan x="-65.03" textLength="12.23" lengthAdjust="spacingAndGlyphs" dy="14.40" font-size="39.76">]</tspan></text>
<text transform="rotate(-90)" y="46.00" font-size="44.38"><tspan x="-694.37" textLength="85.41" lengthAdjust="spacingAndGlyphs">Flux</tspan> <tspan x="-594.47" textLength="12.16" lengthAdjust="spacingAndGlyphs" dy="-2.80" font-size="39.76">[</tspan><tspan x="-577.88" textLength="79.39" lengthAdjust="spacingAndGlyphs" dy="2.80">PgC</tspan> <tspan x="-483.53" textLength="41.42" lengthAdjust="spacingAndGlyphs">yr</tspan><tspan x="-438.63" textLength="6.87" lengthAdjust="spacingAndGlyphs" dy="-17.20" font-size="24.42">-</tspan><tspan x="-430.07" textLength="10.93" lengthAdjust="spacingAndGlyphs" font-size="24.42">1</tspan><tspan x="-414.83" textLength="12.23" lengthAdjust="spacingAndGlyphs" dy="14.40" font-size="39.76">]</tspan></text>
<text transform="rotate(-90)" y="46.00" font-size="44.38"><tspan x="-1044.37" textLength="85.41" lengthAdjust="spacingAndGlyphs">Flux</tspan> <tspan x="-944.47" textLength="12.16" lengthAdjust="spacingAndGlyphs" dy="-2.80" font-size="39.76">[</tspan><tspan x="-927.88" textLength="79.39" lengthAdjust="spacingAndGlyphs" dy="2.80">PgC</tspan> <tspan x="-833.53" textLength="41.42" lengthAdjust="spacingAndGlyphs">yr</tspan><tspan x="-788.63" textLength="6.87" lengthAdjust="spacingAndGlyphs" dy="-17.20" font-size="24.42">-</tspan><tspan x="-780.07" textLength="10.93" lengthAdjust="spacingAndGlyphs" font-size="24.42">1</tspan><tspan x="-764.83" textLength="12.23" lengthAdjust="spacingAndGlyphs" dy="14.40" font-size="39.76">]</tspan></text>
<text transform="rotate(-90)" y="46.00" font-size="44.38"><tspan x="-1436.77" textLength="85.41" lengthAdjust="spacingAndGlyphs">Flux</tspan> <tspan x="-1336.87" textLength="12.16" lengthAdjust="spacingAndGlyphs" dy="-2.80" font-size="39.76">[</tspan><tspan x="-1320.28" textLength="79.39" lengthAdjust="spacingAndGlyphs" dy="2.80">PgC</tspan> <tspan x="-1225.93" textLength="41.42" lengthAdjust="spacingAndGlyphs">yr</tspan><tspan x="-1181.03" textLength="6.87" lengthAdjust="spacingAndGlyphs" dy="-17.20" font-size="24.42">-</tspan><tspan x="-1172.47" textLength="10.93" lengthAdjust="spacingAndGlyphs" font-size="24.42">1</tspan><tspan x="-1157.23" textLength="12.23" lengthAdjust="spacingAndGlyphs" dy="14.40" font-size="39.76">]</tspan></text>
</g>
</svg>
</body></html>
